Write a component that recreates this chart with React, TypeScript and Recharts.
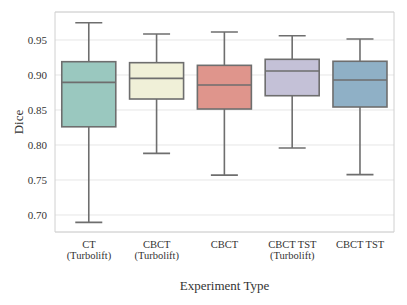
import {
  Bar,
  CartesianGrid,
  ComposedChart,
  ReferenceArea,
  XAxis,
  YAxis,
} from "recharts";

const categories = ["CT\n(Turbolift)", "CBCT\n(Turbolift)", "CBCT", "CBCT TST\n(Turbolift)", "CBCT TST"];
const mins = [0.6895, 0.788, 0.757, 0.7957, 0.7576];
const q1s = [0.826, 0.8657, 0.8514, 0.8704, 0.8543];
const medians = [0.8895, 0.8952, 0.8857, 0.9057, 0.8929];
const q3s = [0.919, 0.9176, 0.9138, 0.9224, 0.9196];
const maxs = [0.9747, 0.9586, 0.9614, 0.9561, 0.9514];
const colors = ["#9ac8bf", "#f0f0d8", "#df958c", "#c4c1d7", "#8fb0c6"];
const yTicks = [0.7, 0.75, 0.8, 0.85, 0.9, 0.95];

const LINE = "#6e6e6e";
const FONT = "'Liberation Serif', 'DejaVu Serif', serif";
const Y_DOMAIN: [number, number] = [0.6757, 0.99];

const data = categories.map((name, i) => ({
  name,
  range: [mins[i], maxs[i]],
  min: mins[i],
  q1: q1s[i],
  median: medians[i],
  q3: q3s[i],
  max: maxs[i],
  color: colors[i],
}));

/** Draws whiskers + box inside the [min, max] range bar. */
function BoxShape(props: any) {
  const { x, y, width, height, payload } = props;
  const { min, max, q1, median, q3, color } = payload;
  const toY = (v: number) => y + (height * (max - v)) / (max - min);
  const cx = x + width / 2;
  const capW = width / 4;
  return (
    <g>
      <line x1={cx} x2={cx} y1={toY(max)} y2={toY(q3)} stroke={LINE} strokeWidth={1.6} />
      <line x1={cx} x2={cx} y1={toY(q1)} y2={toY(min)} stroke={LINE} strokeWidth={1.6} />
      <line x1={cx - capW} x2={cx + capW} y1={toY(max)} y2={toY(max)} stroke={LINE} strokeWidth={1.6} />
      <line x1={cx - capW} x2={cx + capW} y1={toY(min)} y2={toY(min)} stroke={LINE} strokeWidth={1.6} />
      <rect
        x={x}
        y={toY(q3)}
        width={width}
        height={toY(q1) - toY(q3)}
        fill={color}
        stroke={LINE}
        strokeWidth={1.6}
      />
      <line x1={x} x2={x + width} y1={toY(median)} y2={toY(median)} stroke={LINE} strokeWidth={1.6} />
    </g>
  );
}

function CategoryTick(props: any) {
  const { x, y, payload } = props;
  const lines = String(payload.value).split("\n");
  return (
    <text x={x} y={y} textAnchor="middle" fontSize={10.5} fontFamily={FONT} fill="#333">
      {lines.map((l, i) => (
        <tspan key={i} x={x} dy={i === 0 ? 8 : 11}>
          {l}
        </tspan>
      ))}
    </text>
  );
}

function DiceLabel(props: any) {
  const { viewBox } = props;
  const cx = 18;
  const cy = viewBox.y + viewBox.height / 2;
  return (
    <text
      x={cx}
      y={cy}
      transform={`rotate(-90 ${cx} ${cy})`}
      textAnchor="middle"
      dominantBaseline="central"
      fontSize={13}
      fontFamily={FONT}
      fill="#333"
    >
      Dice
    </text>
  );
}

export default function App() {
  return (
    <div style={{ position: "absolute", left: 0, top: 0, background: "#fff" }}>
      <ComposedChart
        width={407}
        height={305}
        data={data}
        margin={{ top: 12, right: 13, left: 0, bottom: 0 }}
        barCategoryGap="10%"
      >
        <CartesianGrid horizontal vertical={false} stroke="#e6e6e6" strokeWidth={1} />
        <ReferenceArea
          y1={Y_DOMAIN[0]}
          y2={Y_DOMAIN[1]}
          fill="none"
          stroke="#d0d0d0"
          strokeWidth={1}
          ifOverflow="extendDomain"
        />
        <XAxis
          dataKey="name"
          height={73}
          axisLine={false}
          tickLine={false}
          interval={0}
          tick={<CategoryTick />}
          label={{
            value: "Experiment Type",
            position: "insideBottom",
            offset: 15,
            fontSize: 13,
            fontFamily: FONT,
            fill: "#333",
          }}
        />
        <YAxis
          type="number"
          width={55}
          domain={Y_DOMAIN}
          ticks={yTicks}
          axisLine={false}
          tickLine={false}
          allowDataOverflow
          tickFormatter={(v: number) => v.toFixed(2)}
          tick={{ fontSize: 11, fontFamily: FONT, fill: "#333" }}
          label={<DiceLabel />}
        />
        <Bar dataKey="range" shape={<BoxShape />} isAnimationActive={false} />
      </ComposedChart>
    </div>
  );
}
